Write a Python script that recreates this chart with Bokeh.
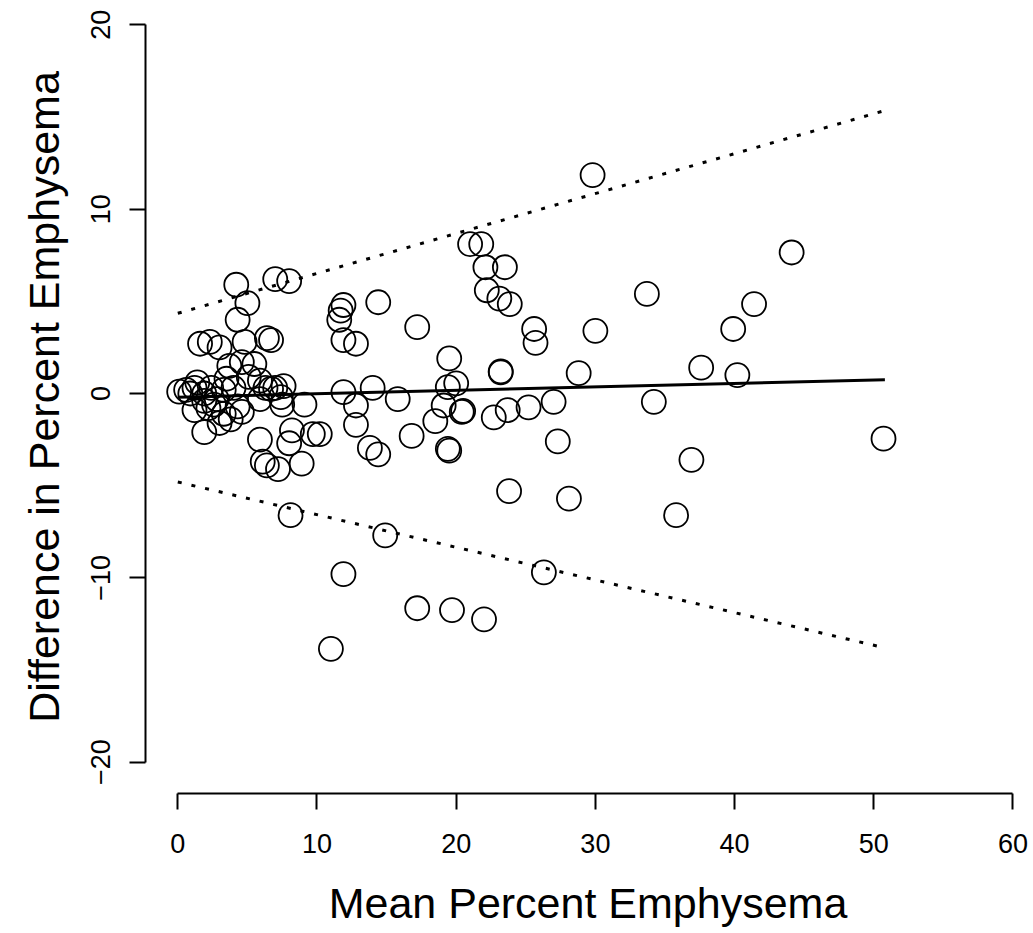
from bokeh.plotting import figure
from bokeh.models import Range1d, FixedTicker
from bokeh.embed import file_html
from bokeh.resources import INLINE

# Mean percent emphysema (x) and difference (y) for each subject
mean_pct = [
    4.2, 7.0, 8.0, 5.0, 4.3, 1.6, 2.3, 3.0, 4.8, 6.4, 6.7, 3.7, 4.6, 5.5, 5.1,
    5.9, 7.0, 7.4, 0.1, 1.2, 1.9, 2.4, 3.3, 0.9, 1.2, 1.9, 3.0, 3.8, 4.3, 2.6,
    1.9, 5.9, 7.5, 9.1, 6.3, 6.7, 7.6, 5.9, 8.2, 9.7, 10.2, 8.0, 6.1, 6.4, 7.2,
    8.9, 8.1, 1.4, 2.8, 3.5, 4.0, 2.2, 3.3, 0.6, 4.6,
    11.9, 11.7, 11.6, 11.9, 12.8, 14.4, 17.2, 19.5, 11.9, 14.0, 15.8, 12.8,
    12.8, 19.4, 20.0, 19.1, 20.4, 20.5, 18.5, 16.8, 13.8, 14.4, 19.4, 19.5,
    14.9, 11.9, 26.3, 17.2, 19.7, 22.0, 11.0,
    21.0, 21.8, 22.1, 23.5, 22.2, 23.1, 23.85, 29.8, 25.6, 25.7, 30.0, 23.2,
    23.2, 28.8, 22.7, 23.7, 25.2, 27.0, 27.3, 23.8, 28.1, 33.7, 41.4, 39.9,
    37.6, 40.2, 34.2, 36.9, 44.1, 50.7, 35.8,
]
diff_pct = [
    5.9, 6.2, 6.1, 4.9, 4.0, 2.7, 2.8, 2.5, 2.8, 3.0, 2.9, 1.5, 1.7, 1.6, 0.9,
    0.7, 0.3, -0.2, 0.1, 0.3, 0.0, 0.3, 0.2, 0.0, -0.9, -2.1, -1.6, -1.4, -0.7, -0.6,
    -0.4, -0.3, -0.6, -0.6, 0.3, 0.25, 0.4, -2.5, -2.0, -2.2, -2.2, -2.7, -3.7, -3.9, -4.1,
    -3.8, -6.6, 0.6, -0.3, 0.8, 0.3, -0.8, -1.1, 0.2, -1.0,
    4.8, 4.5, 4.0, 2.9, 2.7, 4.95, 3.6, 1.9, 0.07, 0.3, -0.3, -0.65,
    -1.7, 0.35, 0.55, -0.65, -1.0, -0.95, -1.5, -2.3, -2.95, -3.3, -3.0, -3.1,
    -7.7, -9.8, -9.7, -11.65, -11.75, -12.25, -13.85,
    8.1, 8.1, 6.85, 6.85, 5.6, 5.15, 4.85, 11.85, 3.5, 2.75, 3.4, 1.15,
    1.2, 1.1, -1.3, -0.9, -0.75, -0.45, -2.6, -5.3, -5.7, 5.4, 4.85, 3.5,
    1.4, 1.0, -0.45, -3.6, 7.65, -2.45, -6.6,
]

# Fitted bias line and limits of agreement (evaluated at the ends of the range)
line_x = [0.0, 50.8]
bias_y = [-0.2, 0.75]
upper_y = [4.35, 15.35]
lower_y = [-4.8, -13.8]

x_ticks = [0, 10, 20, 30, 40, 50, 60]
y_ticks = [-20, -10, 0, 10, 20]

FONT = "Liberation Sans"

p = figure(
    width=1033, height=933,
    x_range=Range1d(-2.32, 61.26), y_range=Range1d(-21.70, 21.32),
    output_backend="svg", toolbar_location=None,
    min_border_left=145, min_border_right=3,
    min_border_top=0, min_border_bottom=140,
)
p.outline_line_color = None
p.xgrid.visible = False
p.ygrid.visible = False
p.background_fill_color = "white"
p.border_fill_color = "white"

p.line(line_x, upper_y, line_color="black", line_width=3, line_dash="4 10")
p.line(line_x, lower_y, line_color="black", line_width=3, line_dash="4 10")
p.line(line_x, bias_y, line_color="black", line_width=3)

p.scatter(mean_pct, diff_pct, marker="circle", size=24, fill_color=None,
          line_color="black", line_width=1.8)

for ax in (p.xaxis[0], p.yaxis[0]):
    ax.axis_line_width = 2
    ax.axis_line_color = "black"
    ax.major_tick_line_width = 2
    ax.major_tick_line_color = "black"
    ax.major_tick_out = 16
    ax.major_tick_in = 0
    ax.minor_tick_line_color = None
    ax.major_label_text_font = FONT
    ax.major_label_text_font_size = "27px"
    ax.major_label_text_color = "black"
    ax.axis_label_text_font = FONT
    ax.axis_label_text_font_size = "43px"
    ax.axis_label_text_font_style = "normal"
    ax.axis_label_text_color = "black"

p.xaxis.bounds = (0, 60)
p.yaxis.bounds = (-20, 20)
p.xaxis.ticker = FixedTicker(ticks=x_ticks)
p.yaxis.ticker = FixedTicker(ticks=y_ticks)
p.xaxis.axis_label = "Mean Percent Emphysema"
p.yaxis.axis_label = "Difference in Percent Emphysema"
p.xaxis.major_label_standoff = 24
p.xaxis.axis_label_standoff = 23
p.yaxis.major_label_orientation = "vertical"
p.yaxis.major_label_standoff = 19
p.yaxis.axis_label_standoff = 21

open("out.html", "w").write(file_html(p, INLINE))
